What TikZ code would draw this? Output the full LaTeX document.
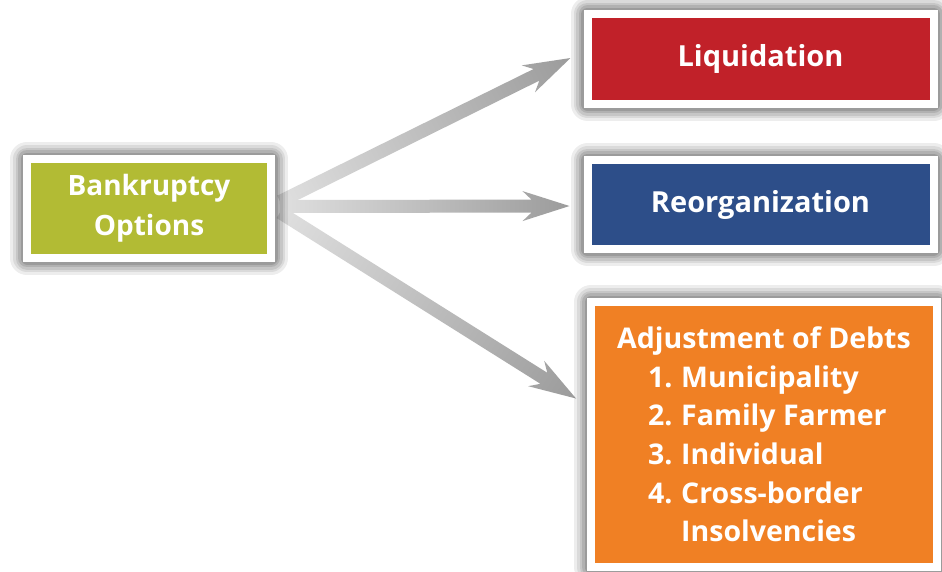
\documentclass[tikz,border=0pt]{standalone}
\usepackage{fontspec}
\setmainfont{Open Sans}
\usetikzlibrary{calc,backgrounds}
\definecolor{bkgreen}{HTML}{B2BB34}
\definecolor{liqred}{HTML}{C12129}
\definecolor{reoblue}{HTML}{2D4E89}
\definecolor{adjorange}{HTML}{F08024}
\tikzset{
  halo/.style={preaction={draw=black, draw opacity=#1, fill=none, line join=round}},
  box/.style={draw=white, line width=8pt, inner sep=0pt, text=white,
    font=\bfseries\fontsize{28}{40}\selectfont, align=center,
    preaction={draw=black, draw opacity=0.07, line width=34pt, line join=round},
    preaction={draw=black, draw opacity=0.08, line width=28pt, line join=round},
    preaction={draw=black, draw opacity=0.09, line width=23pt, line join=round},
    preaction={draw=black, draw opacity=0.10, line width=18pt, line join=round},
    preaction={draw=black, draw opacity=0.12, line width=13pt, line join=round}},
}
\newcommand\gradarrow[2]{%
  \path (#1) coordinate (ga-s) (#2) coordinate (ga-t);
  \pgfpointdiff{\pgfpointanchor{ga-s}{center}}{\pgfpointanchor{ga-t}{center}}%
  \pgfgetlastxy{\gadx}{\gady}%
  \pgfmathsetmacro\gaang{atan2(\gady,\gadx)}%
  \pgfmathsetmacro\galen{veclen(\gadx,\gady)}%
  \begin{scope}[transform canvas={shift={(ga-s)},rotate=\gaang}]
    \shade[left color=gray!25, right color=gray!78]
      (0pt,-6.5pt) -- (\galen pt-38pt,-6.5pt) -- (\galen pt-47pt,-15pt)
      -- (\galen pt,0pt) -- (\galen pt-47pt,15pt) -- (\galen pt-38pt,6.5pt)
      -- (0pt,6.5pt) -- cycle;
  \end{scope}%
}
\begin{document}
\begin{tikzpicture}[x=1pt,y=-1pt]
\useasboundingbox (0,0) rectangle (942,571);

\node[box, fill=bkgreen, minimum width=244pt, minimum height=99pt] (bk) at (149,208.5)
  {Bankruptcy\\Options};
\node[box, fill=liqred, minimum width=346pt, minimum height=90pt,
  font=\bfseries\fontsize{29}{36}\selectfont] (liq) at (760.5,59)
  {Liquidation};
\node[box, fill=reoblue, minimum width=346pt, minimum height=89pt,
  font=\bfseries\fontsize{29}{36}\selectfont] (reo) at (760.5,204.5)
  {Reorganization};
\node[box, fill=adjorange, minimum width=346pt, minimum height=265pt,
  font=\bfseries\fontsize{28.5}{38.6}\selectfont, align=left] (adj) at (764,434.5)
  {Adjustment of Debts\\
   \hspace*{31pt}\makebox[33pt][l]{1.}Municipality\\
   \hspace*{31pt}\makebox[33pt][l]{2.}Family Farmer\\
   \hspace*{31pt}\makebox[33pt][l]{3.}Individual\\
   \hspace*{31pt}\makebox[33pt][l]{4.}Cross-border\\
   \hspace*{64pt}Insolvencies};

\begin{pgfonlayer}{background}
  \fill[white] (0,0) rectangle (942,571);
  \gradarrow{$(bk.east)+(5,-7)$}{$(liq.west)+(-13,-1)$}
  \gradarrow{$(bk.east)+(5,-2)$}{$(reo.west)+(-14,1.5)$}
  \gradarrow{$(bk.east)+(5,4)$}{$(adj.west)+(-11,-36)$}
\end{pgfonlayer}
\end{tikzpicture}
\end{document}
